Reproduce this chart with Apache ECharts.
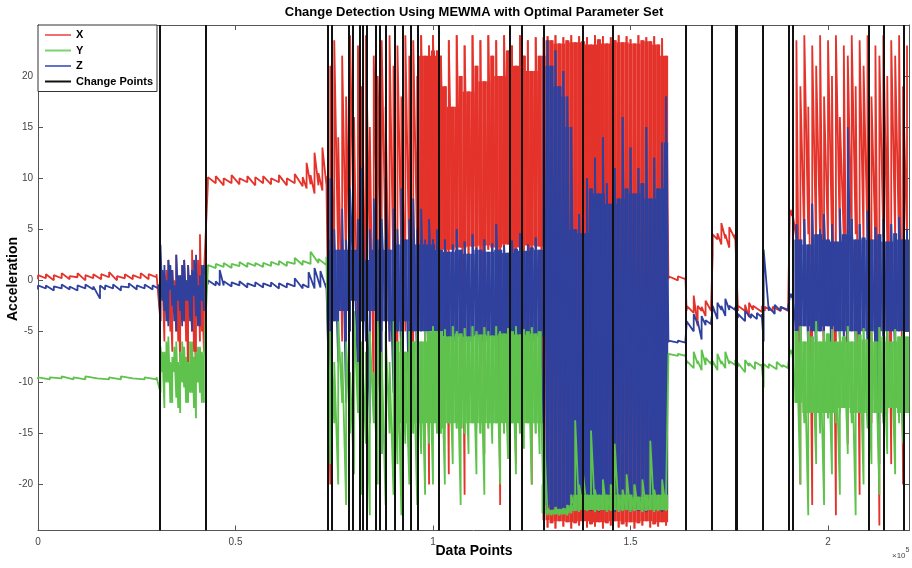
<!DOCTYPE html>
<html><head><meta charset="utf-8">
<script src="https://cdn.jsdelivr.net/npm/echarts@6/dist/echarts.min.js"></script>
<style>html,body{margin:0;padding:0;background:#fff}#c{width:912px;height:568px}</style>
</head><body><div id="c"></div>
<script>
// Rows: [x (thousands of data points), low, high, (optional) dense-core low, dense-core high]
const xRows = [
[0,0.1,0.5],[2,0.2,0.6],[4,0.0,0.5],[6,0.2,0.7],[8,0.1,0.4],[10,0.3,0.7],[12,0.0,0.5],[14,0.2,0.6],[16,0.1,0.6],[18,0.3,0.8],[20,0.0,0.4],[22,0.2,0.6],[24,0.1,0.5],[26,0.2,0.7],[28,0.1,0.6],[30,0.3,0.6],
[31,-4,1.5],[31.5,-1,0.5],[32,-6,0.5],[32.5,-2,1],[33,-3,2],[33.5,-5,-1],[34,-7,1],[34.5,-3,0],[35,-5,2.5],[35.5,-6,-1],[36,-8,0.5],[36.5,-2,1.5],[37,-4,2],[37.5,-6,0],[38,-9,1.5],[38.5,-3,0.5],[39,-5,3],[39.5,-7,-1],[40,-10,1],[40.5,-4,2],[41,-6,4.5],[41.5,-5,0],[42,-7,0.5],
[43,9.4,10.1],[45,9.5,10.2],[47,9.3,10.0],[49,9.5,10.3],[51,9.4,10.0],[53,9.6,10.2],[55,9.3,10.1],[57,9.5,10.2],[59,9.4,10.0],[61,9.6,10.3],[63,9.3,10.0],[65,9.5,10.4],[67,9.2,10.1],[68,9.0,11.5],[69,9.4,10.3],[70,8.5,12.5],[71,9.3,10.5],[72,8.8,13],[73,9.4,10.2],
[74,-20,21,2,21],[75,-3,23.5],[76,2,14],[77,-6,22],[78,1,18],[79,-2,24],[80,3,16],[81,-8,23],[82,0,19],[83,-4,24],[84,2,15],[85,-12,22,1,22],[86,1,20],[87,-3,23.5],[88,3,17],[89,-6,24],[90,0,21],[91,-15,23,2,23],[92,2,18],[93,-5,24],[94,1,22],[95,-9,23.5,0,23.5],[96,3,20],[97,-2,24],[98,2,22],[99,-20,23,2,23],[100,3,24],[101,2.5,22.5],
[102,3,22],[103,2.5,19],[104,-19,23.5,3,23.5],[105,3,17],[106,2.8,24],[107,3.2,20],[108,-21,23,3,23],[109,2.5,18.5],[110,3.3,24],[111,3,21],[112,2.7,23.5],[113,-17,19.5,3.4,19.5],[114,3,24],[115,2.6,22],[116,3.2,23.5],[117,-22,20,3,20],[118,2.8,24],[119,3.5,22.5],[120,3,23],[121,-18,21,2.5,21],[122,3.2,24],[123,2.9,22],[124,3.4,23.5],[125,-20,20.5,2.7,20.5],[126,3,23.8],[127,3.3,22],
[128,-23.5,23.8],[129,-24.2,23.9],[130,-23.8,23.5],[131,-24.3,24],[132,-23.6,23.2],[133,-24.1,23.8],[134,-23.7,23.5],[135,-24.3,24],[136,-23.8,23.3],[137,-24,23.9],[138,-23.6,23.4],[139,-24.2,23.8],[140,-23.9,23.1],[141,-24.1,24],[142,-23.7,23.6],[143,-24.3,23.9],[144,-23.8,23.2],[145,-24,23.8],[146,-23.6,23.5],[147,-24.2,24],[148,-23.9,23.3],[149,-24.1,23.9],[150,-23.7,23.6],[151,-24.3,23.2],[152,-23.8,24],[153,-24,23.5],[154,-23.6,23.8],[155,-24.2,23.4],[156,-23.9,23.9],[157,-24.1,23.1],[158,-23.7,23.7],[159,-24,22],
[159.6,0.1,0.4],[162,0.0,0.4],[163.9,0.1,0.3],
[164.2,-3,-2.5],[166,-3.2,-1.5],[167,-4.5,-2.5],[168,-3,-2.6],[169,-3.5,-2],[170.4,-3,-2.4],
[170.8,2.5,4.5],[172,4.0,4.6],[173,3.5,5.6],[174,4.1,4.5],[175,3.2,5.2],[176.5,4.0,4.5],
[177.2,-3,-2.5],[179,-3,-2.4],[180,-3.6,-2.2],[181,-2.9,-2.5],[183.3,-3.1,-2.5],
[184,-3,-2.6],[186,-3,-2.6],[188,-3,-2.6],[189.9,-3,-2.6],
[190.3,6.3,6.9],[190.9,6.3,6.9],
[192,4,23.5],[193,-20,19,4,19],[194,3.5,24],[195,4.5,17],[196,-22,23,4,23],[197,3,21],[198,4,24],[199,-12,18,4,18],[200,3.5,23.5],[201,4.2,20],[202,-23,24,4,24],[203,3.8,16],[204,4,23],[205,-16,22,4,22],[206,3.2,24],[207,4.5,19],[208,-21,23.5,4,23.5],[209,3.6,21],[210,4,24],[211,-14,18,4,18],[212,3.4,23],[213,-24,22,4,22],[214,4.2,24],[215,3.5,20],[216,-18,23.5,4,23.5],[217,4,22],[218,3,24],[219,-20,19,4,19],[220,4,23]
];
const yRows = [
[0,-9.7,-9.5],[3,-9.7,-9.5],[6,-9.6,-9.4],[9,-9.7,-9.5],[12,-9.7,-9.4],[15,-9.6,-9.5],[18,-9.7,-9.5],[21,-9.7,-9.4],[24,-9.6,-9.5],[27,-9.7,-9.5],[30,-9.7,-9.5],
[31,-11,-6.5],[31.5,-9,-7],[32,-12.5,-7],[32.5,-10,-6],[33,-10,-5.5],[33.5,-12,-8],[34,-12,-7.5],[34.5,-9,-6.5],[35,-11.5,-6],[35.5,-12.5,-8],[36,-13,-7],[36.5,-10,-6],[37,-10.5,-6.5],[37.5,-12,-7.5],[38,-12,-8],[38.5,-11,-6],[39,-11,-6],[39.5,-12.5,-7.5],[40,-13.5,-7],[40.5,-10,-6.5],[41,-11,-6.5],[41.5,-12,-7],[42,-12,-7.5],
[43,1.1,1.5],[45,1.2,1.6],[47,1.3,1.7],[49,1.2,1.6],[51,1.4,1.8],[53,1.3,1.7],[55,1.4,1.7],[57,1.3,1.7],[59,1.4,1.8],[61,1.5,1.9],[63,1.4,1.8],[65,1.6,2.2],[67,1.5,1.9],[69,1.6,2.8],[71,1.7,2.1],[73,1.5,2.3],
[74,-18,-5,-13,-6],[75,-14,-8],[76,-20,-4,-12,-5],[77,-12,-7],[78,-22,-6,-13,-7],[79,-15,-9],[80,-19,-3,-12,-6],[81,-13,-8],[82,-21,-6,-14,-7],[83,-16,-7,-13,-7],[84,-23,-5,-13,-6],[85,-14,-9],[86,-20,-4,-13,-6],[87,-17,-7,-14,-7],[88,-22,-5,-14,-6],[89,-15,-8],[90,-21,-4,-14,-6],[91,-18,-6,-14,-6],[92,-23,-5,-14,-5.5],[93,-16,-7,-14,-7],[94,-20,-5,-14,-5],[95,-15,-6],[96,-22,-5,-14,-5],[97,-17,-6,-14,-6],[98,-21,-5,-14,-5],[99,-16,-5,-14,-5],[100,-20,-4.5,-14,-4.5],[101,-15,-5],
[102,-15,-5],[103,-20,-4.8,-14.5,-4.8],[104,-14,-5.5],[105,-18,-4.5,-14,-4.5],[106,-14.5,-5],[107,-22,-5.2,-14.5,-5.2],[108,-15,-4.7],[109,-17,-5.5,-14,-5.5],[110,-14,-4.5],[111,-19,-5,-14.5,-5],[112,-15,-5.3],[113,-21,-4.6,-14,-4.6],[114,-14.5,-5],[115,-16,-5.4,-14.5,-5.4],[116,-14,-4.5],[117,-20,-5,-14,-5],[118,-15,-5.2],[119,-17.5,-4.7,-14.5,-4.7],[120,-14,-5],[121,-19,-4.5,-14,-4.5],[122,-15,-5.3],[123,-16.5,-4.8,-14,-4.8],[124,-14,-5],[125,-20,-4.6,-14.5,-4.6],[126,-15,-5.2],[127,-17,-5,-14,-5],
[128,-22.8,-14,-22.8,-20],[129,-23,-22.3],[130,-23,-22.5],[131,-22.9,-22.2],[132,-23,-22.4],[133,-22.9,-22.3],[134,-23,-22],[135,-22.8,-21],[136,-22.6,-13.7,-22.6,-21],[137,-22.7,-20,-22.7,-21],[138,-22.5,-19,-22.5,-21],[139,-22.6,-21],[140,-22.5,-14.7,-22.5,-21],[141,-22.7,-20.5],[142,-22.6,-21],[143,-22.5,-19.5,-22.5,-21],[144,-22.7,-21],[145,-22.6,-20],[146,-22.5,-16,-22.5,-21],[147,-22.7,-21],[148,-22.6,-20.5],[149,-22.5,-19,-22.5,-21],[150,-22.7,-21],[151,-22.6,-20],[152,-22.5,-21.2],[153,-22.7,-19.5,-22.7,-21],[154,-22.6,-21],[155,-22.5,-15.7,-22.5,-21],[156,-22.7,-20.5],[157,-22.6,-21],[158,-22.5,-19.5,-22.5,-21],[159,-22.6,-21],
[159.6,-7.4,-7.2],[162,-7.4,-7.2],[163.9,-7.4,-7.2],
[164.2,-8.2,-7.9],[166,-8.6,-7],[167,-8.2,-7.9],[168,-8.8,-6.8],[169,-8.3,-7.6],[170.4,-8.2,-7.9],
[170.8,-8.3,-7.9],[172,-8.8,-7.2],[173,-8.2,-7.9],[174,-8.6,-7],[175,-8.2,-7.9],[176.5,-8.3,-7.8],
[177.2,-8.5,-8.1],[179,-9,-7.8],[180,-8.4,-8.1],[181.5,-8.7,-8.0],[183.2,-8.4,-8.2],
[183.7,-10.5,-8.2],[185,-8.6,-8.2],[187,-8.7,-8.0],[188.5,-8.5,-8.3],[189.9,-8.6,-8.3],
[190.3,-7.2,-6.8],[190.9,-7.2,-6.8],
[192,-12,-5],[193,-20,-4.5,-13,-4.5],[194,-14,-6,-13,-6],[195,-23,-5,-13,-5],[196,-13,-5.5],[197,-18,-4,-13,-4],[198,-15,-6,-13,-6],[199,-22,-5,-13,-5],[200,-13.5,-5.2],[201,-19,-4.8,-13,-4.8],[202,-14,-6,-13,-6],[203,-21,-5,-13,-5],[204,-12.5,-5.5],[205,-17,-4.5,-13,-4.5],[206,-14,-6,-13,-6],[207,-23,-5,-13,-5],[208,-13,-5.3],[209,-20,-4.7,-13,-4.7],[210,-14.5,-5.8,-13,-5.8],[211,-18,-5,-13,-5],[212,-13,-6],[213,-21,-4.6,-13,-4.6],[214,-14,-5.5,-13,-5.5],[215,-17,-5,-13,-5],[216,-12.5,-6],[217,-19,-4.8,-13,-4.8],[218,-14,-5.5,-13,-5.5],[219,-16,-5,-13,-5],[220,-13,-5.5]
];
const zRows = [
[0,-0.9,-0.5],[2,-0.8,-0.5],[4,-1.0,-0.6],[6,-0.8,-0.4],[8,-0.9,-0.6],[10,-1.0,-0.5],[12,-0.8,-0.4],[14,-0.9,-0.6],[15.7,-1.8,-0.5],[17,-0.9,-0.5],[19,-0.8,-0.4],[21,-1.0,-0.6],[23,-0.7,-0.3],[25,-0.9,-0.5],[27,-0.8,-0.4],[29,-0.9,-0.5],[30.5,-0.8,-0.4],
[31,-4,3.5],[31.5,-2,1],[32,-3,1.5],[32.5,-4,0],[33,-4.5,2],[33.5,-1,1.5],[34,-2.5,1],[34.5,-4,-0.5],[35,-5,2.5],[35.5,-2,0.5],[36,-3,0.5],[36.5,-4.5,1.5],[37,-4,2],[37.5,-2,0],[38,-2,1.5],[38.5,-4,0.5],[39,-5,1],[39.5,-1.5,2],[40,-3.5,2.5],[40.5,-4.5,-0.5],[41,-4.5,0.5],[41.5,-2,1.5],[42,-3,1.5],
[43,-0.4,0.0],[45,-0.5,-0.1],[46,-0.5,1.0],[47,-0.5,-0.1],[49,-0.6,-0.2],[51,-0.5,-0.1],[53,-0.7,-0.3],[55,-0.6,-0.2],[57,-0.7,-0.3],[59,-0.6,-0.2],[61,-0.8,-0.3],[63,-0.7,-0.3],[65,-0.6,0.2],[67,-0.8,-0.4],[68.5,-0.7,0.8],[70,-0.8,1.2],[71.5,-0.7,0.9],[73,-0.8,-0.3],
[74,-15,10,-5,4],[75,-4,5,-4,3],[76,-8,3,-5,3],[77,-3,7,-3,4],[78,-12,4,-5,3],[79,-5,9,-5,4],[80,-2,3],[81,-10,6,-5,3],[82,-4,11,-4,4],[83,-6,2,-5,2],[84,-14,5,-5,3],[85,-3,8,-3,4],[86,-7,4,-5,3],[87,-17,6,-5,4],[88,-4,10,-4,4],[89,-6,3,-5,3],[90,-11,7,-5,4],[91,-5,5,-5,3.5],[92,-8,9,-5,4],[93,-4,4],[94,-13,6,-5,4],[95,-5,8,-5,4],[96,-9,5,-5,3.5],[97,-5,7,-5,4],[98,-6,4,-5,3.5],[99,-10,6,-5,4],[100,-5,4],[101,-7,5,-5,3.5],
[102,-7,3],[103,-5.5,4],[104,-8.8,2.8],[105,-6,3.5],[106,-7.5,5],[107,-5.5,3],[108,-8,3.8],[109,-6,2.6],[110,-7,4.5],[111,-5.5,3.2],[112,-8.5,3],[113,-6,4],[114,-7,2.8],[115,-5.5,3.6],[116,-8,5.5],[117,-6,3],[118,-7,3.4],[119,-5.5,2.7],[120,-8.8,3.9],[121,-6,3.1],[122,-7,4.6],[123,-5.5,2.9],[124,-8,3.5],[125,-6,3.2],[126,-7.5,4.2],[127,-5.5,3],
[128,-22,22],[129,-22.5,23.5],[130,-22.6,21],[131,-22.4,22.5],[132,-22.6,19],[133,-22.5,20.5],[134,-22.7,18],[135,-22.4,15],[136,-22.6,5],[137,-22.5,6.5],[138,-22.7,4.6],[139,-22.4,10],[140,-22.6,9],[141,-22.5,12],[142,-22.7,8.5],[143,-22.4,14],[144,-22.6,9.5],[145,-22.5,7.5],[146,-22.7,11],[147,-22.4,8],[148,-22.6,16],[149,-22.5,9],[150,-22.7,13],[151,-22.4,8.5],[152,-22.6,11],[153,-22.5,9.5],[154,-22.7,15],[155,-22.4,8],[156,-22.6,12],[157,-22.5,9],[158,-22.7,13.5],[159,-22.4,18],
[159.6,-6.1,-5.9],[162,-6.1,-5.9],[163.9,-6.1,-5.9],
[164.2,-4.3,-4.0],[166,-5,-3.3],[167,-4.3,-4.0],[168,-5.8,-3.5],[169,-4.4,-3.9],[170.4,-4.3,-4.0],
[170.8,-2.9,-2.5],[172,-3.8,-2.2],[173,-2.9,-2.5],[174,-3.5,-1.8],[175,-2.9,-2.5],[176.5,-2.9,-2.6],
[177.2,-3.7,-3.3],[179,-4,-3],[180.5,-3.7,-3.3],[182,-3.8,-3.2],[183.2,-3.6,-3.3],
[183.7,-6,3],[185,-3,-2.6],[186.5,-3.3,-2.4],[188,-3,-2.6],[189.9,-2.9,-2.6],
[190.3,-1.7,-1.3],[190.9,-1.7,-1.3],
[192,-5,5.5],[193,-6,4],[194,-4.5,6],[195,-7,3.5],[196,-5,7.5],[197,-8,4.5],[198,-5,5],[199,-6,6.5],[200,-4.5,4],[201,-9,5.5],[202,-5,3.8],[203,-6,7],[204,-5.5,4.5],[205,-7,15,-5,5],[206,-5,6],[207,-6,4],[208,-8,5.5],[209,-5,4.2],[210,-6,6.8],[211,-5,4],[212,-7,5.2],[213,-18,4.5,-5,4.5],[214,-5.5,6],[215,-6,3.8],[216,-5,5.5],[217,-8,4.6],[218,-5,6.2],[219,-6,4],[220,-5,5]
];
// spans (thousands of data points) where each signal is dense enough to read as a filled envelope
const denseSpansX = [[96.5,159.5]];
const denseSpansY = [[90.5,159.5],[191.1,220.5]];
const denseSpansZ = [[73.4,159.5],[191.1,220.5]];
const changePoints = [30760,42450,73400,74430,78700,79750,81500,82300,83300,85570,86580,88100,90400,92400,94400,96200,101500,119500,122500,128100,138000,145600,164000,170600,176700,177000,183500,190100,191100,210400,214200,219200];
const xTicks = [0,50000,100000,150000,200000];
const yTicks = [-20,-15,-10,-5,0,5,10,15,20];

function env(rows){
  const out=[];
  rows.forEach(r=>{ const x=r[0]*1000; out.push([x,r[1]]); if(r[2]!==r[1]) out.push([x,r[2]]); });
  return out;
}
// dense rows -> [x, lo, hi, solidLo, solidHi]; the solid part is the overlap with neighbouring bins
function core(rows, spans){
  const d = rows.filter(r=>spans.some(s=>r[0]>=s[0]&&r[0]<=s[1]))
    .map(r=>({x:r[0], lo:r.length>3?r[3]:r[1], hi:r.length>3?r[4]:r[2]}));
  return d.map((b,i)=>{
    let sLo=b.lo, sHi=b.hi;
    [d[i-1],d[i+1]].forEach(n=>{ if(n && Math.abs(n.x-b.x)<=1.05){ sHi=Math.min(sHi,n.hi); sLo=Math.max(sLo,n.lo);} });
    if(sHi<sLo){ sHi=b.hi; sLo=b.lo; }
    return [b.x*1000, b.lo, b.hi, sLo, sHi];
  });
}
const FONT = '"Liberation Sans", Arial, Helvetica, sans-serif';
const chart = echarts.init(document.getElementById('c'), null, {renderer:'canvas'});
const axisLine = {show:true, onZero:false, lineStyle:{color:'#555', width:1}};
const lineSeries = (name, rows, color, z) => ({
  name, type:'line', data: env(rows), showSymbol:false, symbol:'none', z,
  lineStyle:{color, width:1.8}, itemStyle:{color}, animation:false, silent:true
});
const bandSeries = (name, rows, spans, color, z) => ({
  name, type:'custom', z, silent:true, animation:false, clip:true,
  itemStyle:{color},
  encode:{x:0, y:[1,2]},
  data: core(rows, spans),
  renderItem:(params, api)=>{
    const x=api.value(0), lo=api.value(1), hi=api.value(2), sLo=api.value(3), sHi=api.value(4);
    const a=api.coord([x-520, sHi]), b=api.coord([x+520, sLo]);
    const t=api.coord([x, hi]), bt=api.coord([x, lo]);
    const cx=(a[0]+b[0])/2, sw=1.8;
    return {type:'group', children:[
      {type:'rect', shape:{x:a[0], y:a[1], width:b[0]-a[0], height:Math.max(1,b[1]-a[1])}, style:{fill:color}},
      {type:'rect', shape:{x:cx-sw/2, y:t[1], width:sw, height:a[1]-t[1]}, style:{fill:color}},
      {type:'rect', shape:{x:cx-sw/2, y:b[1], width:sw, height:bt[1]-b[1]}, style:{fill:color}}
    ]};
  }
});
const RED='#e4332b', GREEN='#5ec24c', BLUE='#2f409d';
chart.setOption({
  animation:false,
  backgroundColor:'#fff',
  grid:{left:38, right:3, top:25, bottom:37.5, containLabel:false},
  legend:{
    orient:'vertical', left:38, top:25, padding:[4,4,4,7], itemGap:3.5,
    itemWidth:26, itemHeight:2, icon:'rect', backgroundColor:'#fff',
    borderColor:'#333', borderWidth:1, borderRadius:0, z:10,
    textStyle:{fontFamily:FONT, fontWeight:'bold', fontSize:11, color:'#000', lineHeight:12},
    data:[
      {name:'X', itemStyle:{color:'#f07070'}},
      {name:'Y', itemStyle:{color:'#7ad46e'}},
      {name:'Z', itemStyle:{color:'#6570c8'}},
      {name:'Change Points', itemStyle:{color:'#111'}}
    ]
  },
  xAxis:[
    {type:'value', min:0, max:220500, interval:50000, position:'bottom', axisLine, splitLine:{show:false},
      axisTick:{inside:true, length:5, lineStyle:{color:'#555'}},
      axisLabel:{showMaxLabel:false, margin:7, color:'#444', fontSize:10, fontFamily:FONT,
        formatter:v=> xTicks.includes(v) ? String(v/100000) : ''}},
    {type:'value', min:0, max:220500, interval:50000, position:'top', axisLine, splitLine:{show:false},
      axisTick:{inside:true, length:5, lineStyle:{color:'#555'}}, axisLabel:{show:false}}
  ],
  yAxis:[
    {type:'value', min:-24.5, max:25, position:'left', axisLine, splitLine:{show:false},
      axisLabel:{customValues:yTicks, margin:5, color:'#444', fontSize:10, fontFamily:FONT},
      axisTick:{inside:true, length:5, customValues:yTicks, lineStyle:{color:'#555'}}},
    {type:'value', min:-24.5, max:25, position:'right', axisLine, splitLine:{show:false},
      axisLabel:{show:false},
      axisTick:{inside:true, length:5, customValues:yTicks, lineStyle:{color:'#555'}}}
  ],
  series:[
    bandSeries('X', xRows, denseSpansX, RED, 2),
    lineSeries('X', xRows, RED, 2),
    bandSeries('Z', zRows, denseSpansZ, BLUE, 3),
    lineSeries('Z', zRows, BLUE, 3),
    bandSeries('Y', yRows, denseSpansY, GREEN, 4),
    lineSeries('Y', yRows, GREEN, 4),
    {name:'Change Points', type:'line', data:[], z:5, itemStyle:{color:'#111'}, lineStyle:{color:'#111'},
      markLine:{silent:true, symbol:'none', animation:false, label:{show:false},
        lineStyle:{color:'#111', width:2, type:'solid'},
        emphasis:{disabled:true},
        data: changePoints.map(v=>({xAxis:v}))}}
  ],
  graphic:[
    {type:'text', x:474, y:12, style:{text:'Change Detection Using MEWMA with Optimal Parameter Set', font:'bold 13px '+FONT, fill:'#000', align:'center', verticalAlign:'middle'}},
    {type:'text', x:474, y:551, style:{text:'Data Points', font:'bold 14px '+FONT, fill:'#000', align:'center', verticalAlign:'middle'}},
    {type:'text', x:13, y:279, rotation:Math.PI/2, style:{text:'Acceleration', font:'bold 14px '+FONT, fill:'#000', align:'center', verticalAlign:'middle'}},
    {type:'text', x:892, y:553, style:{text:'{a|×10}{b|5}', rich:{a:{fontSize:8, fontFamily:FONT, fill:'#444', verticalAlign:'bottom'}, b:{fontSize:7, fontFamily:FONT, fill:'#444', padding:[0,0,6,0]}}, verticalAlign:'middle'}}
  ]
});
</script></body></html>
